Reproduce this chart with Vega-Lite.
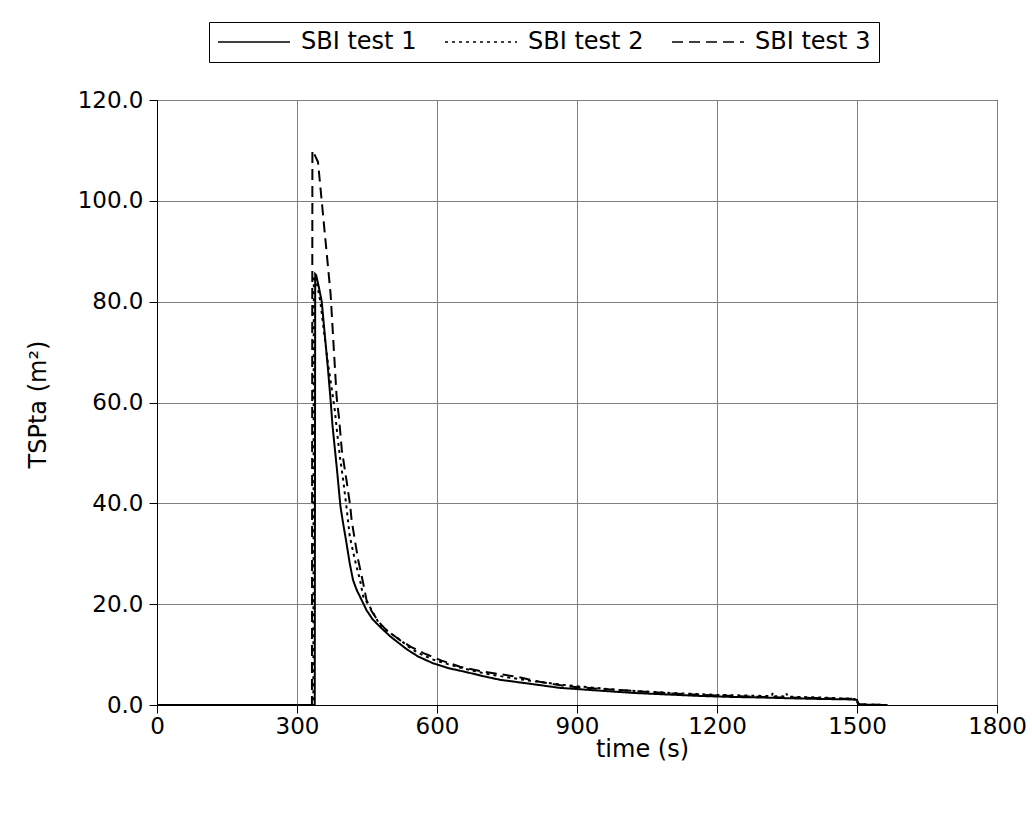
{
  "$schema": "https://vega.github.io/schema/vega-lite/v6.json",
  "width": 840,
  "height": 605,
  "autosize": {"type": "none"},
  "padding": {"left": 157, "top": 100, "right": 35, "bottom": 116},
  "background": "white",
  "config": {
    "font": "DejaVu Sans",
    "view": {"stroke": "#000", "strokeWidth": 1},
    "axis": {
      "domainColor": "#000",
      "tickColor": "#000",
      "gridColor": "#808080",
      "gridWidth": 1,
      "tickSize": 8,
      "labelFontSize": 23,
      "labelColor": "#000",
      "labelFont": "DejaVu Sans",
      "labelFlush": false,
      "titleFont": "DejaVu Sans",
      "titleFontSize": 24,
      "titleFontWeight": "normal",
      "titleColor": "#000"
    }
  },
  "data": {
    "values": [
      {"t": 0, "v": 0, "s": "SBI test 1"},
      {"t": 338, "v": 0, "s": "SBI test 1"},
      {"t": 339, "v": 85.5, "s": "SBI test 1"},
      {"t": 341, "v": 85.3, "s": "SBI test 1"},
      {"t": 347, "v": 82.8, "s": "SBI test 1"},
      {"t": 353, "v": 80, "s": "SBI test 1"},
      {"t": 360, "v": 73, "s": "SBI test 1"},
      {"t": 366, "v": 67, "s": "SBI test 1"},
      {"t": 372, "v": 60.5, "s": "SBI test 1"},
      {"t": 376, "v": 55.5, "s": "SBI test 1"},
      {"t": 385, "v": 47.3, "s": "SBI test 1"},
      {"t": 393, "v": 39.5, "s": "SBI test 1"},
      {"t": 398, "v": 36.5, "s": "SBI test 1"},
      {"t": 405, "v": 32.7, "s": "SBI test 1"},
      {"t": 413, "v": 28.1, "s": "SBI test 1"},
      {"t": 420, "v": 24.8, "s": "SBI test 1"},
      {"t": 428, "v": 22.8, "s": "SBI test 1"},
      {"t": 435, "v": 21.5, "s": "SBI test 1"},
      {"t": 449, "v": 18.8, "s": "SBI test 1"},
      {"t": 462, "v": 17, "s": "SBI test 1"},
      {"t": 478, "v": 15.5, "s": "SBI test 1"},
      {"t": 500, "v": 13.6, "s": "SBI test 1"},
      {"t": 536, "v": 11, "s": "SBI test 1"},
      {"t": 560, "v": 9.6, "s": "SBI test 1"},
      {"t": 591, "v": 8.3, "s": "SBI test 1"},
      {"t": 625, "v": 7.3, "s": "SBI test 1"},
      {"t": 664, "v": 6.5, "s": "SBI test 1"},
      {"t": 700, "v": 5.7, "s": "SBI test 1"},
      {"t": 735, "v": 5, "s": "SBI test 1"},
      {"t": 800, "v": 4.2, "s": "SBI test 1"},
      {"t": 863, "v": 3.4, "s": "SBI test 1"},
      {"t": 940, "v": 2.9, "s": "SBI test 1"},
      {"t": 1020, "v": 2.4, "s": "SBI test 1"},
      {"t": 1090, "v": 2.1, "s": "SBI test 1"},
      {"t": 1163, "v": 1.8, "s": "SBI test 1"},
      {"t": 1230, "v": 1.6, "s": "SBI test 1"},
      {"t": 1290, "v": 1.5, "s": "SBI test 1"},
      {"t": 1350, "v": 1.35, "s": "SBI test 1"},
      {"t": 1420, "v": 1.2, "s": "SBI test 1"},
      {"t": 1490, "v": 1.1, "s": "SBI test 1"},
      {"t": 1500, "v": 1.0, "s": "SBI test 1"},
      {"t": 1504, "v": 0.1, "s": "SBI test 1"},
      {"t": 1565, "v": 0, "s": "SBI test 1"},

      {"t": 0, "v": 0, "s": "SBI test 2"},
      {"t": 335, "v": 0, "s": "SBI test 2"},
      {"t": 336, "v": 84.5, "s": "SBI test 2"},
      {"t": 342, "v": 84, "s": "SBI test 2"},
      {"t": 350, "v": 80, "s": "SBI test 2"},
      {"t": 358, "v": 74, "s": "SBI test 2"},
      {"t": 366, "v": 68, "s": "SBI test 2"},
      {"t": 374, "v": 63, "s": "SBI test 2"},
      {"t": 381, "v": 58.5, "s": "SBI test 2"},
      {"t": 386, "v": 54, "s": "SBI test 2"},
      {"t": 392, "v": 49.2, "s": "SBI test 2"},
      {"t": 399, "v": 44.6, "s": "SBI test 2"},
      {"t": 406, "v": 39.3, "s": "SBI test 2"},
      {"t": 413, "v": 33.5, "s": "SBI test 2"},
      {"t": 424, "v": 28.8, "s": "SBI test 2"},
      {"t": 435, "v": 24.8, "s": "SBI test 2"},
      {"t": 442, "v": 21.5, "s": "SBI test 2"},
      {"t": 456, "v": 19.5, "s": "SBI test 2"},
      {"t": 478, "v": 15.8, "s": "SBI test 2"},
      {"t": 496, "v": 14.5, "s": "SBI test 2"},
      {"t": 514, "v": 13.4, "s": "SBI test 2"},
      {"t": 540, "v": 11.5, "s": "SBI test 2"},
      {"t": 560, "v": 10.3, "s": "SBI test 2"},
      {"t": 592, "v": 9, "s": "SBI test 2"},
      {"t": 620, "v": 8.2, "s": "SBI test 2"},
      {"t": 650, "v": 7.4, "s": "SBI test 2"},
      {"t": 700, "v": 6.3, "s": "SBI test 2"},
      {"t": 750, "v": 5.5, "s": "SBI test 2"},
      {"t": 800, "v": 4.8, "s": "SBI test 2"},
      {"t": 870, "v": 4, "s": "SBI test 2"},
      {"t": 950, "v": 3.3, "s": "SBI test 2"},
      {"t": 1000, "v": 2.9, "s": "SBI test 2"},
      {"t": 1100, "v": 2.4, "s": "SBI test 2"},
      {"t": 1200, "v": 2, "s": "SBI test 2"},
      {"t": 1300, "v": 1.8, "s": "SBI test 2"},
      {"t": 1318, "v": 1.8, "s": "SBI test 2"},
      {"t": 1319, "v": 2.4, "s": "SBI test 2"},
      {"t": 1321, "v": 1.75, "s": "SBI test 2"},
      {"t": 1348, "v": 1.7, "s": "SBI test 2"},
      {"t": 1349, "v": 2.3, "s": "SBI test 2"},
      {"t": 1351, "v": 1.65, "s": "SBI test 2"},
      {"t": 1420, "v": 1.5, "s": "SBI test 2"},
      {"t": 1495, "v": 1.2, "s": "SBI test 2"},
      {"t": 1503, "v": 0.1, "s": "SBI test 2"},
      {"t": 1565, "v": 0, "s": "SBI test 2"},

      {"t": 0, "v": 0, "s": "SBI test 3"},
      {"t": 332, "v": 0, "s": "SBI test 3"},
      {"t": 333, "v": 110, "s": "SBI test 3"},
      {"t": 336, "v": 109.5, "s": "SBI test 3"},
      {"t": 345, "v": 107.7, "s": "SBI test 3"},
      {"t": 355, "v": 98, "s": "SBI test 3"},
      {"t": 365, "v": 88.3, "s": "SBI test 3"},
      {"t": 372, "v": 81.5, "s": "SBI test 3"},
      {"t": 378, "v": 72, "s": "SBI test 3"},
      {"t": 385, "v": 61, "s": "SBI test 3"},
      {"t": 390, "v": 57, "s": "SBI test 3"},
      {"t": 396, "v": 50.6, "s": "SBI test 3"},
      {"t": 406, "v": 44.6, "s": "SBI test 3"},
      {"t": 414, "v": 39.5, "s": "SBI test 3"},
      {"t": 417, "v": 36.7, "s": "SBI test 3"},
      {"t": 424, "v": 32.7, "s": "SBI test 3"},
      {"t": 431, "v": 28.8, "s": "SBI test 3"},
      {"t": 442, "v": 24.1, "s": "SBI test 3"},
      {"t": 449, "v": 20.8, "s": "SBI test 3"},
      {"t": 460, "v": 18.6, "s": "SBI test 3"},
      {"t": 475, "v": 16.5, "s": "SBI test 3"},
      {"t": 490, "v": 15, "s": "SBI test 3"},
      {"t": 520, "v": 12.9, "s": "SBI test 3"},
      {"t": 545, "v": 11.5, "s": "SBI test 3"},
      {"t": 571, "v": 10.3, "s": "SBI test 3"},
      {"t": 610, "v": 8.8, "s": "SBI test 3"},
      {"t": 649, "v": 7.6, "s": "SBI test 3"},
      {"t": 700, "v": 6.6, "s": "SBI test 3"},
      {"t": 771, "v": 5.6, "s": "SBI test 3"},
      {"t": 820, "v": 4.6, "s": "SBI test 3"},
      {"t": 878, "v": 3.7, "s": "SBI test 3"},
      {"t": 950, "v": 3.2, "s": "SBI test 3"},
      {"t": 1020, "v": 2.8, "s": "SBI test 3"},
      {"t": 1100, "v": 2.3, "s": "SBI test 3"},
      {"t": 1200, "v": 1.9, "s": "SBI test 3"},
      {"t": 1300, "v": 1.6, "s": "SBI test 3"},
      {"t": 1400, "v": 1.4, "s": "SBI test 3"},
      {"t": 1497, "v": 1.2, "s": "SBI test 3"},
      {"t": 1503, "v": 0.1, "s": "SBI test 3"},
      {"t": 1565, "v": 0, "s": "SBI test 3"}
    ]
  },
  "mark": {"type": "line", "color": "#000", "strokeWidth": 2, "clip": true},
  "encoding": {
    "x": {
      "field": "t",
      "type": "quantitative",
      "scale": {"domain": [0, 1800], "nice": false, "zero": false},
      "axis": {
        "values": [0, 300, 600, 900, 1200, 1500, 1800],
        "format": "d",
        "title": "time (s)",
        "labelPadding": 2,
        "titleX": 485,
        "titleY": 32,
        "titleBaseline": "top",
        "titleAnchor": "middle"
      }
    },
    "y": {
      "field": "v",
      "type": "quantitative",
      "scale": {"domain": [0, 120], "nice": false},
      "axis": {
        "values": [0, 20, 40, 60, 80, 100, 120],
        "format": ".1f",
        "title": "TSPta (m²)",
        "labelPadding": 6,
        "titleX": -119,
        "titleY": 304,
        "titleAngle": -90,
        "titleBaseline": "middle",
        "titleAnchor": "middle"
      }
    },
    "strokeDash": {
      "field": "s",
      "type": "nominal",
      "scale": {
        "domain": ["SBI test 1", "SBI test 2", "SBI test 3"],
        "range": [[1, 0], [3, 4], [11, 6]]
      },
      "legend": {
        "title": null,
        "orient": "none",
        "legendX": 52,
        "legendY": -78,
        "direction": "horizontal",
        "strokeColor": "#000",
        "fillColor": "#fff",
        "padding": 8,
        "clipHeight": 24,
        "symbolType": "stroke",
        "symbolSize": 5184,
        "symbolStrokeWidth": 1.5,
        "symbolStrokeColor": "#000",
        "labelFontSize": 24,
        "labelFont": "DejaVu Sans",
        "labelColor": "#000",
        "labelOffset": 10,
        "columnPadding": 27
      }
    }
  }
}
